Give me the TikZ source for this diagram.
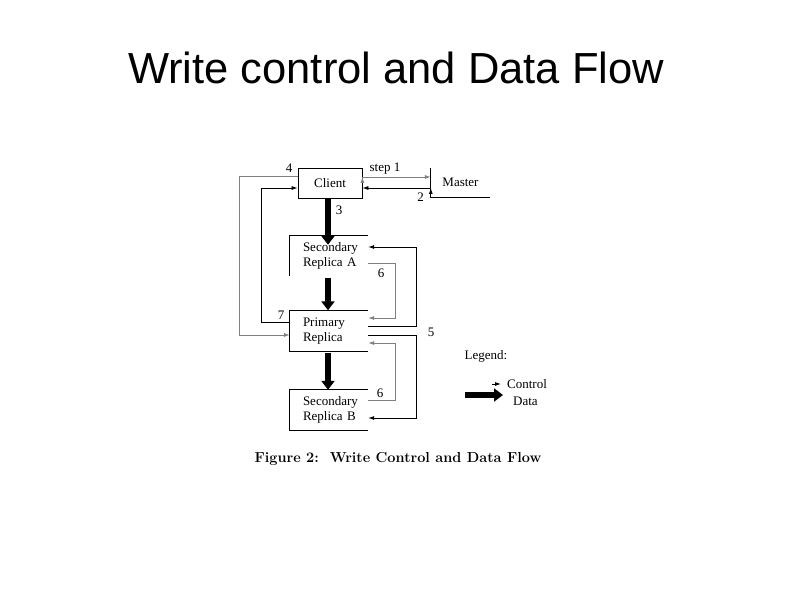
\documentclass[tikz,border=0pt]{standalone}
\usepackage{fontspec}
\setmainfont{Liberation Serif}
\newfontfamily\titlefont{Liberation Sans}
\newfontfamily\capfont{Latin Modern Roman}
\usepackage{xcolor}
\usetikzlibrary{arrows.meta}
\colorlet{lightline}{black!50}

\begin{document}
\begin{tikzpicture}[x=1bp, y=-1bp,
    txt/.style={font=\fontsize{13bp}{15.5bp}\selectfont, inner sep=0pt, text=black},
    box/.style={txt, minimum height=40bp, text width=52bp, align=left, inner xsep=13bp},
    rim/.style={line width=0.8bp},
    ctrl/.style={line width=0.8bp, -{Latex[length=6bp,width=4bp]}},
    ctrlg/.style={ctrl, lightline},
    data/.style={line width=5.5bp, -{Triangle[length=9bp,width=13bp]}}]
        \useasboundingbox (0, 0) rectangle (794, 595);
        \node (title) at (396, 68) [font=\titlefont\fontsize{43.5bp}{50bp}\selectfont] {Write control and Data Flow};
        % boxes
        \node (client) at (330, 183) [txt, draw, rim, minimum width=64bp, minimum height=30bp] {Client};
        \node (master) at (460.5, 182.5) [txt, minimum width=59bp, minimum height=29bp] {Master};
        \node (secA) at (329, 256) [box] {Secondary\\Replica~A};
        \node (prim) at (329, 331) [box, minimum height=41bp] {Primary\\Replica};
        \node (secB) at (329, 410) [box] {Secondary\\Replica~B};
        \draw [rim] (master.north west) -- (master.south west) -- (master.south east);
        \draw [rim] (secA.south west) -- (secA.north west) -- (secA.north east);
        \draw [rim] (prim.north east) -- (prim.north west) -- (prim.south west) -- (prim.south east);
        \draw [rim] (secB.north east) -- (secB.north west) -- (secB.south west) -- (secB.south east);
        % control flow
        \draw [ctrlg] ([yshift=6bp]client.east) edge node [txt, above=2bp, pos=0.33] {step 1} ([yshift=5.5bp]master.west);
        \draw [ctrl] ([yshift=-5.5bp]master.west) edge node [txt, below=4bp, pos=0.15] {2} ([yshift=-5bp]client.east);
        \draw [ctrlg] ([yshift=7bp]client.west) -- ++(-58, 0) |- ([yshift=-4bp]prim.west);
        \draw [ctrl] ([yshift=9bp]prim.west) -- ++(-28, 0) |- ([yshift=-5bp]client.west);
        \draw [ctrl] ([yshift=5bp]prim.east) -- ++(48, 0) |- ([yshift=9bp]secA.east);
        \draw [ctrl] ([yshift=-4bp]prim.east) -- ++(48, 0) |- ([yshift=-8bp]secB.east);
        \draw [ctrlg] ([yshift=-7bp]secA.east) -- ++(27, 0) |- ([yshift=13bp]prim.east);
        \draw [ctrlg] ([yshift=10bp]secB.east) -- ++(27, 0) |- ([yshift=-12bp]prim.east);
        \node (l4) at (289, 168) [txt] {4};
        \node (l7) at (281, 315) [txt] {7};
        \node (l5) at (431, 332) [txt] {5};
        \node (l6a) at (381, 273) [txt] {6};
        \node (l6b) at (380, 393) [txt] {6};
        % data flow
        \draw [data] (client.south -| 328, 0) -- ([xshift=-1bp, yshift=-9bp]secA.north);
        \draw [data] ([xshift=-1bp, yshift=-2bp]secA.south) -- ([xshift=-1bp]prim.north);
        \draw [data] ([xshift=-1bp, yshift=-1bp]prim.south) -- ([xshift=-1bp]secB.north);
        \node (l3) at (339, 210) [txt] {3};
        % legend
        \node (legend) at (486, 356) [txt] {Legend:};
        \node (ctrltxt) at (507, 384) [txt, anchor=west] {Control};
        \node (datatxt) at (513, 401) [txt, anchor=west] {Data};
        \draw [ctrl] ([xshift=-15bp]ctrltxt.west) -- ([xshift=-6bp]ctrltxt.west);
        \draw [data] ([xshift=-48bp, yshift=6bp]datatxt.west) -- ([xshift=-10bp, yshift=6bp]datatxt.west);
        \node (caption) at (398, 459) [font=\capfont\bfseries\fontsize{14.5bp}{17bp}\selectfont] {Figure 2:\ \ Write Control and Data Flow};
    \end{tikzpicture}
\end{document}
